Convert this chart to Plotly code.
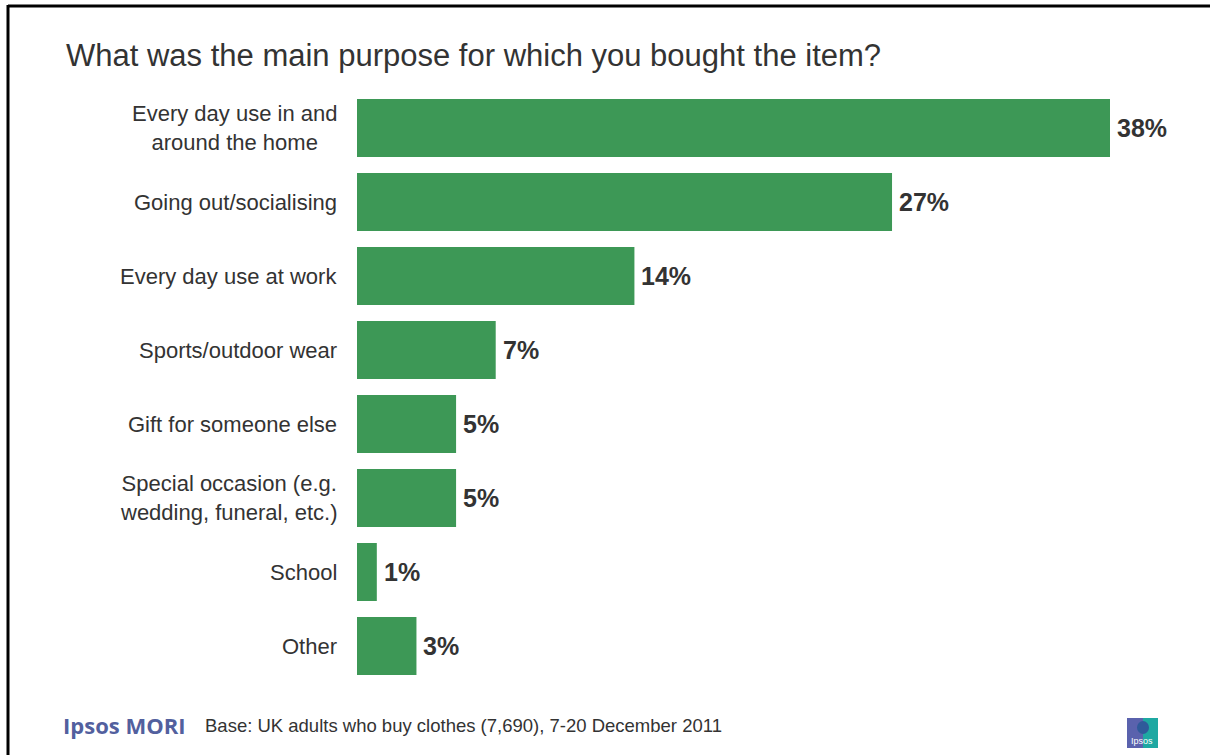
import plotly.graph_objects as go

# Survey responses: main purpose of clothing purchase (%)
categories = [
    "Every day use in and<br>around the home",
    "Going out/socialising",
    "Every day use at work",
    "Sports/outdoor wear",
    "Gift for someone else",
    "Special occasion (e.g.<br>wedding, funeral, etc.)",
    "School",
    "Other",
]
values = [38, 27, 14, 7, 5, 5, 1, 3]
value_labels = ["38%", "27%", "14%", "7%", "5%", "5%", "1%", "3%"]

title_text = "What was the main purpose for which you bought the item?"
brand_text = "Ipsos MORI"
base_text = "Base: UK adults who buy clothes (7,690), 7-20 December 2011"

W, H = 1210, 755
L, R, T, B = 357, 100, 91, 72
PW, PH = W - L - R, H - T - B

FONT = "Arial, Liberation Sans, sans-serif"
GREEN = "#3d9856"
TEXT = "#333333"


def px(x):
    return (x - L) / PW


def py(y):
    return 1 - (y - T) / PH


fig = go.Figure(
    go.Bar(
        x=values,
        y=categories,
        orientation="h",
        marker=dict(color=GREEN, line=dict(width=0)),
        hoverinfo="skip",
    )
)

annotations = []
for cat, v, lab in zip(categories, values, value_labels):
    # value label right of each bar
    annotations.append(dict(
        x=v, y=cat, xref="x", yref="y", text=f"<b>{lab}</b>", showarrow=False,
        xanchor="left", xshift=5, font=dict(family=FONT, size=25, color=TEXT),
    ))
    # category label, centred lines, right edge beside the axis
    annotations.append(dict(
        x=px(339), y=cat, xref="paper", yref="y", text=cat, showarrow=False,
        xanchor="right", align="center", font=dict(family=FONT, size=22, color=TEXT),
    ))

annotations += [
    dict(x=px(64), y=py(55), xref="paper", yref="paper", text=title_text,
         showarrow=False, xanchor="left", yanchor="middle",
         font=dict(family=FONT, size=31, color=TEXT)),
    dict(x=px(61), y=py(725), xref="paper", yref="paper", text=f"<b>{brand_text}</b>",
         showarrow=False, xanchor="left", yanchor="middle",
         font=dict(family="Open Sans, sans-serif", size=22, color="#52609e")),
    dict(x=px(203), y=py(725), xref="paper", yref="paper", text=base_text,
         showarrow=False, xanchor="left", yanchor="middle",
         font=dict(family=FONT, size=18.5, color=TEXT)),
    dict(x=px(1142), y=py(741), xref="paper", yref="paper", text="Ipsos",
         showarrow=False, xanchor="center", yanchor="middle",
         font=dict(family=FONT, size=9, color="white")),
]

shapes = [
    # frame lines along the top and left edge
    dict(type="line", xref="paper", yref="paper", x0=px(8), x1=px(1220),
         y0=py(6), y1=py(6), line=dict(color="black", width=3)),
    dict(type="line", xref="paper", yref="paper", x0=px(8), x1=px(8),
         y0=py(5), y1=py(765), line=dict(color="black", width=3)),
    # logo block
    dict(type="rect", xref="paper", yref="paper", x0=px(1127), x1=px(1143),
         y0=py(748), y1=py(718), line=dict(width=0), fillcolor="#5a62ad"),
    dict(type="rect", xref="paper", yref="paper", x0=px(1143), x1=px(1158),
         y0=py(748), y1=py(718), line=dict(width=0), fillcolor="#1ea8a2"),
    dict(type="circle", xref="paper", yref="paper", x0=px(1137), x1=px(1149),
         y0=py(734), y1=py(721), line=dict(width=0), fillcolor="#2f5a9a"),
]

fig.update_layout(
    width=W, height=H,
    margin=dict(l=L, r=R, t=T, b=B),
    paper_bgcolor="white", plot_bgcolor="white",
    bargap=0.216,
    showlegend=False,
    xaxis=dict(range=[0, 38], visible=False, fixedrange=True),
    yaxis=dict(categoryorder="array", categoryarray=categories,
               range=[7.5, -0.5], visible=False, fixedrange=True),
    annotations=annotations,
    shapes=shapes,
)

fig.write_html("out.html", config={"displayModeBar": False})
